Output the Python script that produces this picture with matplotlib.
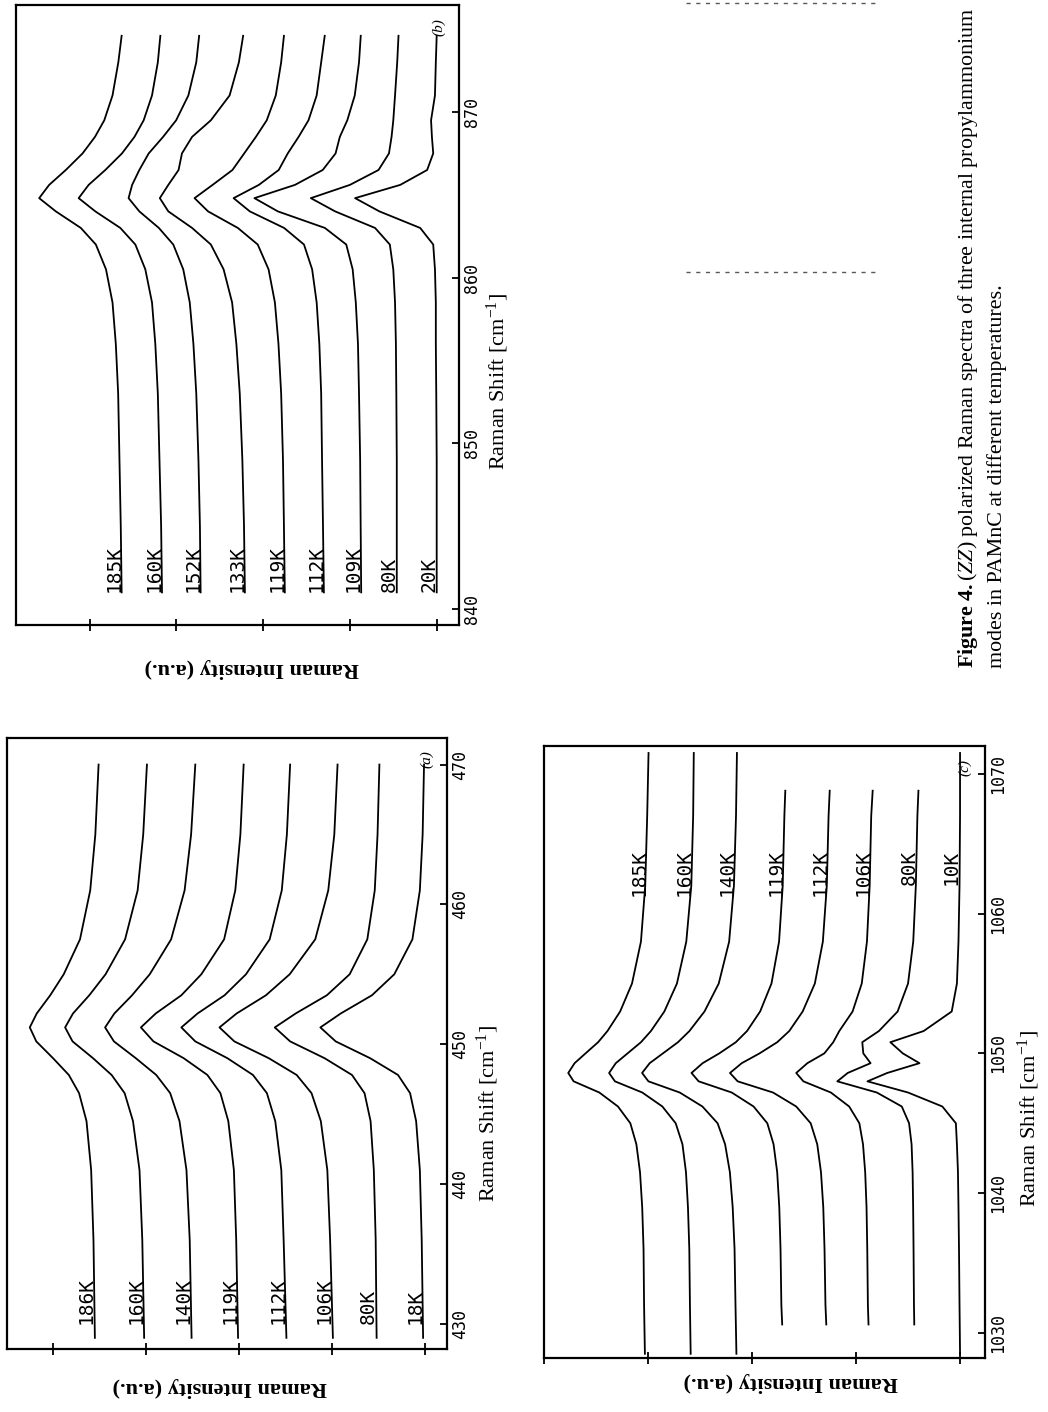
import matplotlib
matplotlib.use("Agg")
import matplotlib.pyplot as plt
from matplotlib.lines import Line2D

plt.rcParams["mathtext.fontset"] = "custom"
plt.rcParams["mathtext.rm"] = "Liberation Serif"
plt.rcParams["mathtext.it"] = "Liberation Serif:italic"
plt.rcParams["mathtext.bf"] = "Liberation Serif:bold"

# ---------------- panel (a): 430-470 cm-1 mode ----------------
shift_a = [429, 436, 441, 444.5, 446.5, 447.8, 449, 450.2, 451.2, 452.2,
           453.5, 455, 457.5, 461, 465, 470]
temps_a = ["186K", "160K", "140K", "119K", "112K", "106K", "80K", "18K"]
a_186 = [355, 356.5, 359, 364, 372, 383, 400, 418, 425, 417.5, 403, 388.5, 371, 360, 354.5, 351]
a_160 = [302, 304, 307, 314, 323, 337, 357, 379, 387, 378.5, 361, 343.5, 322.5, 309, 303, 299]
a_140 = [251, 253, 256.5, 264, 274, 289, 311, 334.5, 344, 334, 315, 296, 273, 258.5, 251.5, 247]
a_119 = [201, 203, 205.5, 211.5, 220, 234, 259.5, 292, 305.5, 289.5, 262, 240.5, 216, 204, 198.5, 195]
a_112 = [149, 152, 154.5, 161, 170, 185, 212.5, 247, 262, 244.5, 215.5, 192.5, 167, 154, 148.5, 145]
a_106 = [99, 102, 105, 112, 122, 138, 168, 205, 221, 202.5, 171, 145.5, 118, 104, 97.5, 94]
a_80 = [52, 53, 55, 58.5, 65, 78.5, 108, 145, 161.5, 139, 105.5, 81, 62, 54, 51, 49]
a_18 = [2, 3.5, 5.5, 9.5, 16, 29, 59, 96, 112.5, 90.5, 57, 33, 13.5, 5.5, 2.5, 1]
ticks_a = [430, 440, 450, 460, 470]

# ---------------- panel (b): 840-875 cm-1 mode ----------------
shift_b = [841, 845, 849, 853, 856, 858.5, 860.5, 862, 863, 864, 864.8,
           865.6, 866.5, 867.5, 868.5, 869.5, 871, 873, 874.6]
temps_b = ["185K", "160K", "152K", "133K", "119K", "112K", "109K", "80K", "20K"]
b_185 = [363, 364, 365.5, 367, 369.7, 373.5, 381, 392.7, 410, 438.8, 458, 446.5, 427.3, 408, 393.7, 383, 373.5, 366.8, 363]
b_160 = [316.5, 317.5, 319.4, 321.3, 324.2, 328, 335.7, 347.2, 364.5, 393.3, 412.5, 401, 381.8, 362.6, 348.2, 337.6, 328, 321.3, 318.4]
b_152 = [272, 272.8, 274.5, 277, 280.3, 284.5, 292, 303.5, 320.1, 342.6, 355, 350.9, 342.6, 331.8, 315.2, 300.2, 286.1, 277, 273.7]
b_133 = [221, 222, 223.9, 226.9, 230.8, 235.7, 245.5, 260.2, 281.8, 309.2, 319, 309.2, 297.4, 293.5, 281.8, 260.2, 238.6, 227.9, 223]
b_119 = [175, 176, 177.1, 179.2, 182.3, 186.4, 193.7, 206.2, 229.1, 263.4, 279, 258.2, 235.3, 221.8, 208.3, 195.8, 185.4, 179.2, 176]
b_112 = [130, 131, 132.1, 133.1, 135.2, 138.3, 143.5, 152.9, 175.8, 215.3, 234, 204.9, 182, 171.6, 159.1, 147.7, 138.3, 133.1, 129]
b_109 = [87, 87.6, 88.2, 89.5, 90.7, 93.2, 96.8, 104.2, 128.8, 183, 210, 163.3, 131.3, 116.5, 111.6, 103, 94.4, 89.5, 87.5]
b_80 = [46, 46, 46, 46.5, 47, 48, 50, 54, 71, 117, 145, 100, 67, 55, 52, 50, 48, 45.5, 44]
b_20 = [0, 0, 0, 0.5, 1, 1, 2, 4, 19, 66, 94, 42, 11, 4, 5.5, 6.5, 2, 1, 0]
ticks_b = [840, 850, 860, 870]

# ---------------- panel (c): 1030-1070 cm-1 mode ----------------
shift_c = [1028.5, 1032, 1036, 1039, 1041.5, 1043.5, 1045, 1046.2, 1047.2, 1048.0,
           1048.6, 1049.3, 1050.0, 1050.8, 1051.6, 1053, 1055, 1058, 1062, 1067, 1071.5]
shift_c_short = [1030.6, 1032, 1036, 1039, 1041.5, 1043.5, 1045, 1046.2, 1047.2, 1048.0,
                 1048.6, 1049.3, 1050.0, 1050.8, 1051.6, 1053, 1055, 1058, 1062, 1067, 1068.8]
temps_c = ["185K", "160K", "140K", "119K", "112K", "106K", "80K", "10K"]
c_185 = [303, 303.8, 304.3, 305.6, 307.7, 311.2, 317, 328.9, 346.8, 371.5, 376.7, 370.6, 360.1, 348, 339, 326.8, 315.4, 306.8, 302.7, 300.8, 299.5]
c_160 = [259, 259.7, 260.3, 261.6, 263.5, 266.9, 273.4, 286.2, 305.5, 331.8, 337.4, 331, 319.7, 306.8, 297.2, 284.3, 272.2, 263.2, 258.4, 256.6, 256]
c_140 = [215, 215.9, 216.8, 218.6, 221.3, 225.9, 233.1, 247.7, 269.5, 299.6, 305.7, 298.4, 285.7, 271.2, 260.2, 245.7, 232, 222, 217.4, 215.4, 214.5]
c_119 = [171, 171.8, 172.6, 173.8, 175.8, 179.3, 185.3, 198.5, 219.5, 251.3, 258.2, 247.5, 231.5, 215.6, 204.8, 192.2, 181.3, 174, 170.5, 168.9, 168]
c_112 = [128.6, 129.4, 130.3, 131.5, 133.7, 137.3, 143.6, 157.5, 179.8, 213.8, 221.2, 209.9, 192.8, 175.8, 164.2, 151.3, 139.6, 131.9, 128.1, 126.4, 125.3]
c_106 = [88, 88.6, 89.2, 89.9, 91.2, 93.3, 96.8, 106.6, 124.2, 150.6, 157.5, 146.8, 130.5, 121.9, 116.1, 103.3, 94.5, 89.5, 86.9, 85.4, 84]
c_80 = [44, 44.3, 44.7, 45.1, 45.6, 46.6, 49, 56, 80, 118, 108, 86, 93, 94, 78, 60, 50, 45, 42.5, 41, 40]
c_10 = [0, 0.5, 1, 1.5, 2, 3, 4, 17, 50, 89, 70, 39, 55, 67, 35, 8, 3, 1.5, 0.5, 0, 0]
ticks_c = [1030, 1040, 1050, 1060, 1070]

intensity_ticks = [0, 100, 200, 300, 400]

W, H = 1048, 1412
MONO = "DejaVu Sans Mono"
SERIF = "Liberation Serif"

fig = plt.figure(figsize=(W / 100, H / 100), dpi=100)
fig.patch.set_facecolor("white")


def place(x0, y0, x1, y1):
    """Add an axes given its box in pixel coordinates (origin top-left)."""
    return fig.add_axes([x0 / W, 1 - y1 / H, (x1 - x0) / W, (y1 - y0) / H])


def style(ax, xlim, ylim, shift_ticks, shift_lab, inten_lab, letter, letter_xy):
    # the page is turned: Raman shift runs upward, intensity grows to the left
    ax.set_xlim(*xlim)
    ax.set_ylim(*ylim)
    ax.set_xticks(intensity_ticks)
    ax.set_xticklabels([])
    ax.yaxis.tick_right()
    ax.set_yticks(shift_ticks)
    ax.set_yticklabels([str(t) for t in shift_ticks], fontfamily=MONO,
                       fontsize=12, rotation=90, va="center")
    ax.tick_params(axis="x", direction="inout", length=9, width=1.3)
    ax.tick_params(axis="y", direction="in", length=5, width=1.3, pad=3)
    for sp in ax.spines.values():
        sp.set_linewidth(1.6)
    ax.text(shift_lab[0], shift_lab[1], r"Raman Shift [cm$^{-1}$]",
            transform=ax.transAxes, rotation=90, ha="center", va="center",
            fontfamily=SERIF, fontsize=16)
    ax.text(inten_lab[0], inten_lab[1], "Raman Intensity (a.u.)",
            transform=ax.transAxes, rotation=180, ha="center", va="center",
            fontfamily=SERIF, fontsize=16, fontweight="bold")
    ax.text(letter_xy[0], letter_xy[1], letter, transform=ax.transAxes,
            rotation=90, ha="center", va="center", fontfamily=SERIF,
            fontsize=11, fontstyle="italic")


def draw(ax, shifts, curve, label, lab_shift, lab_va, use_end=False):
    ax.plot(curve, shifts, color="black", lw=1.3)
    base = curve[-1] if use_end else curve[0]
    ax.text(base + 9, lab_shift, label, rotation=90, ha="center", va=lab_va,
            fontfamily=MONO, fontsize=14)


# panel (b), upper left
ax_b = place(16, 5, 459, 625)
style(ax_b, (484.7, -25.7), (839.03, 876.46), ticks_b,
      (1.088, 0.392), (0.533, -0.069), "(b)", (0.955, 0.965))
for name, curve in zip(temps_b, [b_185, b_160, b_152, b_133, b_119, b_112, b_109, b_80, b_20]):
    draw(ax_b, shift_b, curve, name, 841.0, "bottom")

# panel (a), lower left
ax_a = place(7, 738, 447, 1349)
style(ax_a, (449.5, -23.7), (428.2, 471.9), ticks_a,
      (1.092, 0.386), (0.484, -0.062), "(a)", (0.955, 0.965))
for name, curve in zip(temps_a, [a_186, a_160, a_140, a_119, a_112, a_106, a_80, a_18]):
    draw(ax_a, shift_a, curve, name, 430.0, "bottom")

# panel (c), lower right
ax_c = place(543.7, 746, 985, 1358)
style(ax_c, (400.3, -24.0), (1028.2, 1072.0), ticks_c,
      (1.100, 0.392), (0.559, -0.040), "(c)", (0.955, 0.965))
curves_c = [c_185, c_160, c_140, c_119, c_112, c_106, c_80, c_10]
grids_c = [shift_c, shift_c, shift_c, shift_c_short, shift_c_short,
           shift_c_short, shift_c_short, shift_c]
for name, curve, grid in zip(temps_c, curves_c, grids_c):
    draw(ax_c, grid, curve, name, 1064.6, "top", use_end=True)

# caption, running up the right-hand margin
fig.text(968 / W, 1 - 668 / H,
         r"$\mathbf{Figure\ 4.}$($\mathit{ZZ}$) polarized Raman spectra of three internal propylammonium",
         rotation=90, ha="center", va="bottom", fontfamily=SERIF, fontsize=15.8)
fig.text(997 / W, 1 - 668 / H, "modes in PAMnC at different temperatures.",
         rotation=90, ha="center", va="bottom", fontfamily=SERIF, fontsize=15.8)

# faint dashed rules left over in the blank area
for yy in (3, 272):
    fig.add_artist(Line2D([686 / W, 879 / W], [1 - yy / H] * 2, color="0.35",
                          lw=1.0, ls=(0, (3, 4))))

fig.savefig("out.png", dpi=100, facecolor="white")
